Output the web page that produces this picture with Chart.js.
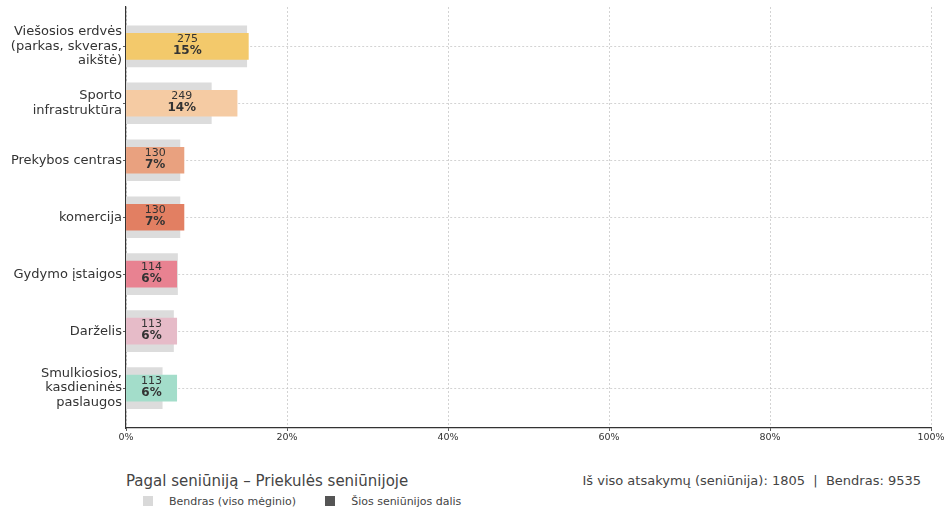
<!DOCTYPE html>
<html>
<head>
<meta charset="utf-8">
<script src="https://cdn.jsdelivr.net/npm/chart.js@4.4.1/dist/chart.umd.min.js"></script>
<style>
  html, body { margin: 0; padding: 0; background: #fff; }
  body { width: 949px; height: 508px; position: relative; overflow: hidden; font-family: "DejaVu Sans", sans-serif; }
  #c { position: absolute; left: 0; top: 0; }
  .t { position: absolute; white-space: nowrap; color: #444; }
  #title { left: 126px; top: 471px; font-size: 15px; line-height: 20px; }
  #totals { right: 28px; top: 472px; font-size: 13px; line-height: 18px; }
  #legend { left: 143px; top: 494px; font-size: 11px; line-height: 15px; color: #444; }
  .sw { display: inline-block; width: 10px; height: 10px; vertical-align: -1px; margin-right: 16px; }
  .li { display: inline-block; margin-right: 29px; }
</style>
</head>
<body>
<canvas id="c" width="949" height="452"></canvas>
<div class="t" id="title">Pagal seniūniją – Priekulės seniūnijoje</div>
<div class="t" id="totals">Iš viso atsakymų (seniūnija): 1805&nbsp; | &nbsp;Bendras: 9535</div>
<div class="t" id="legend"><span class="li"><span class="sw" style="background:#d9d9d9"></span>Bendras (viso mėginio)</span><span class="li"><span class="sw" style="background:#555555"></span>Šios seniūnijos dalis</span></div>
<script>
const categories = [
  ["Viešosios erdvės", "(parkas, skveras,", "aikštė)"],
  ["Sporto", "infrastruktūra"],
  ["Prekybos centras"],
  ["komercija"],
  ["Gydymo įstaigos"],
  ["Darželis"],
  ["Smulkiosios,", "kasdieninės", "paslaugos"]
];
const counts = [275, 249, 130, 130, 114, 113, 113];
const localPct = [15.2, 13.8, 7.2, 7.2, 6.3, 6.3, 6.3];
const overallPct = [15.0, 10.6, 6.7, 6.7, 6.4, 5.9, 4.5];
const barColors = ["#f3c96b", "#f5cba3", "#e9a17f", "#e27f62", "#e88291", "#e6bbc8", "#a3ddca"];
const xTicks = [0, 20, 40, 60, 80, 100];

const labelPlugin = {
  id: 'barLabels',
  afterDatasetsDraw(chart) {
    const ctx = chart.ctx;
    const meta = chart.getDatasetMeta(0);
    ctx.save();
    ctx.textAlign = 'center';
    ctx.textBaseline = 'middle';
    ctx.fillStyle = '#333';
    meta.data.forEach((el, i) => {
      const cx = (el.x + el.base) / 2;
      ctx.font = '11px "DejaVu Sans"';
      ctx.fillText(String(counts[i]), cx, el.y - 7);
      ctx.font = 'bold 12px "DejaVu Sans"';
      ctx.fillText(Math.round(localPct[i]) + '%', cx, el.y + 5);
    });
    ctx.restore();
  }
};

new Chart(document.getElementById('c'), {
  type: 'bar',
  data: {
    datasets: [
      {
        label: 'Šios seniūnijos dalis',
        data: localPct.map((v, i) => ({ x: v, y: i })),
        backgroundColor: barColors,
        barThickness: 26,
        grouped: false
      },
      {
        label: 'Bendras (viso mėginio)',
        data: overallPct.map((v, i) => ({ x: v, y: i })),
        backgroundColor: '#dcdcdc',
        barThickness: 41,
        grouped: false
      }
    ]
  },
  plugins: [labelPlugin],
  options: {
    indexAxis: 'y',
    responsive: false,
    animation: false,
    events: [],
    layout: { padding: { left: 0, right: 18, top: 7, bottom: 0 } },
    plugins: { legend: { display: false }, tooltip: { enabled: false } },
    scales: {
      x: {
        type: 'linear',
        min: 0, max: 100,
        offset: false,
        afterBuildTicks(scale) { scale.ticks = xTicks.map(v => ({ value: v })); },
        afterFit(scale) { scale.height = 24; },
        ticks: {
          callback: v => v + '%',
          color: '#333',
          font: { family: 'DejaVu Sans', size: 9.5 },
          padding: 1,
          autoSkip: false,
          maxRotation: 0
        },
        grid: {
          offset: false,
          color: '#c8c8c8',
          lineWidth: 0.8,
          tickColor: '#333',
          tickLength: 3,
          tickBorderDash: []
        },
        border: { display: true, color: '#333', width: 1.2, dash: [2, 2] }
      },
      y: {
        type: 'linear',
        reverse: true,
        offset: false,
        min: -0.69, max: 6.7,
        afterBuildTicks(scale) { scale.ticks = categories.map((_, i) => ({ value: i })); },
        afterFit(scale) { scale.width = 126; scale.paddingTop = 0; scale.paddingBottom = 0; },
        ticks: {
          callback: v => categories[v],
          color: '#333',
          font: { family: 'DejaVu Sans', size: 13, lineHeight: 1.12 },
          padding: 1,
          autoSkip: false
        },
        grid: {
          offset: false,
          color: '#c8c8c8',
          lineWidth: 0.8,
          tickColor: '#333',
          tickLength: 3,
          tickBorderDash: []
        },
        border: { display: true, color: '#333', width: 1.2, dash: [2, 2] }
      }
    }
  }
});
</script>
</body>
</html>
